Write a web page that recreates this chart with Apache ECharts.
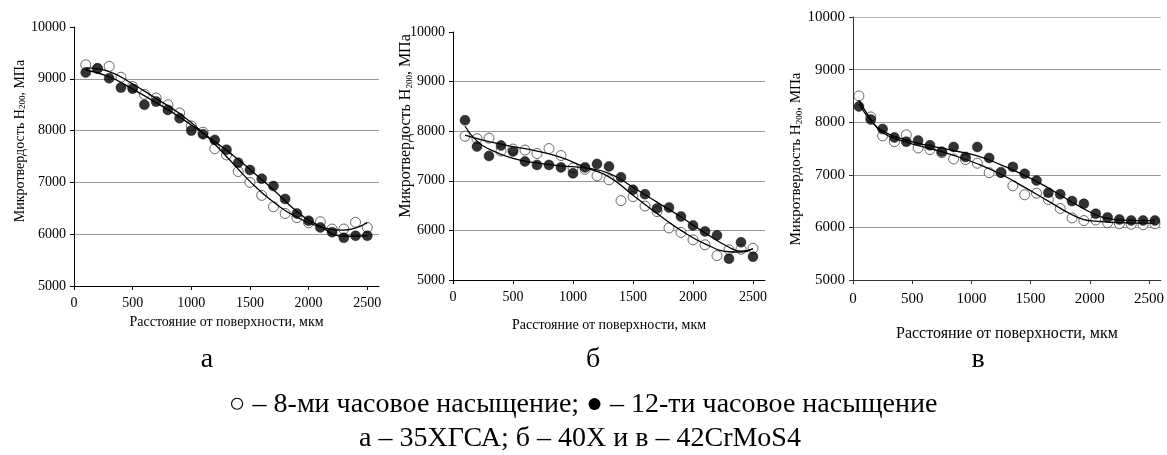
<!DOCTYPE html>
<html><head><meta charset="utf-8">
<script src="https://cdn.jsdelivr.net/npm/echarts@6/dist/echarts.min.js"></script>
<style>html,body{margin:0;padding:0;background:#fff}#c{width:1167px;height:455px}</style>
</head><body><div id="c"></div>
<script>
// ---------- data ----------
const xTickLabels = [0, 500, 1000, 1500, 2000, 2500];
const yTickValues = [5000, 6000, 7000, 8000, 9000, 10000];

// Panel а (35ХГСА)
const xA = [100,200,300,400,500,600,700,800,900,1000,1100,1200,1300,1400,1500,1600,1700,1800,1900,2000,2100,2200,2300,2400,2500];
const open8hA = [9270,9200,9240,9030,8850,8700,8630,8500,8340,8090,7970,7650,7530,7210,7000,6750,6530,6400,6320,6220,6240,6100,6100,6230,6130];
const filled12hA = [9120,9200,9010,8830,8810,8500,8560,8400,8240,8000,7930,7820,7630,7380,7240,7070,6930,6680,6400,6260,6130,6040,5930,5970,5970];
const trendXA = [100,300,500,700,900,1100,1300,1500,1700,1900,2100,2300,2500];
const trendOpenA = [9210,9140,8900,8620,8330,7960,7500,7020,6620,6330,6140,6080,6220];
const trendFilledA = [9170,9040,8800,8540,8260,7950,7620,7250,6860,6440,6150,5960,5970];

// Panel б (40Х)
const xB = [100,200,300,400,500,600,700,800,900,1000,1100,1200,1300,1400,1500,1600,1700,1800,1900,2000,2100,2200,2300,2400,2500];
const open8hB = [7900,7850,7860,7600,7640,7620,7550,7650,7510,7260,7230,7100,7020,6600,6680,6490,6380,6050,5960,5810,5710,5490,5610,5620,5640];
const filled12hB = [8220,7690,7500,7710,7590,7390,7320,7320,7270,7150,7270,7340,7290,7070,6820,6730,6440,6460,6280,6100,5980,5900,5430,5760,5470];
const trendXB = [100,200,300,500,700,900,1100,1300,1500,1700,1900,2100,2300,2400,2500];
const trendOpenB = [7920,7850,7790,7690,7600,7470,7270,7080,6710,6340,6000,5730,5570,5560,5630];
const trendFilledB = [8100,7800,7640,7450,7360,7300,7260,7150,6870,6570,6270,5950,5660,5580,5630];

// Panel в (42CrMoS4)
const xC = [50,150,250,350,450,550,650,750,850,950,1050,1150,1250,1350,1450,1550,1650,1750,1850,1950,2050,2150,2250,2350,2450,2550];
const open8hC = [8500,8100,7740,7630,7760,7510,7480,7420,7300,7290,7220,7040,7050,6790,6620,6650,6530,6360,6180,6130,6140,6090,6070,6060,6050,6070];
const filled12hC = [8300,8050,7870,7710,7630,7650,7560,7440,7530,7340,7530,7320,7040,7150,7020,6890,6660,6630,6500,6450,6260,6190,6150,6130,6130,6130];
const trendXOpenC = [50,150,250,450,650,850,1050,1250,1450,1650,1850,1950,2050,2250,2550];
const trendOpenC = [8420,8060,7800,7620,7500,7370,7210,7010,6760,6500,6240,6150,6120,6090,6080];
const trendXFilledC = [50,150,250,450,650,850,1050,1250,1450,1650,1850,2050,2150,2250,2550];
const trendFilledC = [8350,8030,7830,7660,7550,7460,7360,7190,6990,6750,6480,6240,6170,6140,6130];

const xAxisTitle = 'Расстояние от поверхности, мкм';
const yAxisTitleRich = '{n|Микротвердость H}{s|200}{n|, МПа}';
const panelLetters = ['а', 'б', 'в'];
const legendLine = '○ – 8-ми часовое насыщение; ● – 12-ти часовое насыщение';
const captionLine = 'а – 35ХГСА; б – 40Х и в – 42CrMoS4';

// ---------- chart ----------
const FF = "'Liberation Serif','Times New Roman',serif";
const zip = (xs, ys) => xs.map((x, i) => [x, ys[i]]);

const grids = [
  {left: 74, top: 27, width: 305, height: 259},
  {left: 453, top: 32, width: 312, height: 248},
  {left: 853, top: 17, width: 308, height: 263}
];
const xNameGap = [29, 38, 46];
const xNameSize = [14, 14, 16];
const tickSize = [14, 14, 15];
const xLabelMargin = [10, 10, 12];
const axisColor = ['#000', '#000', '#333'];
const gridColors = [
  ['#999','#999','#999','#999','#999','rgba(0,0,0,0)'],
  ['#999','#999','#999','#999','#999','rgba(0,0,0,0)'],
  ['#999','#999','#999','#999','#999','#bbb']
];

const xAxes = grids.map((g, i) => ({
  type: 'value', gridIndex: i, min: 0, max: 2600,
  axisLine: {show: true, lineStyle: {color: axisColor[i], width: 1}},
  axisTick: {show: true, length: 4, customValues: xTickLabels, lineStyle: {color: axisColor[i]}},
  axisLabel: {customValues: xTickLabels, formatter: v => String(v), fontFamily: FF, fontSize: tickSize[i], color: '#000', margin: xLabelMargin[i]},
  splitLine: {show: false},
  name: xAxisTitle, nameLocation: 'middle', nameGap: xNameGap[i],
  nameTextStyle: {fontFamily: FF, fontSize: xNameSize[i], color: '#000'}
}));
const yAxes = grids.map((g, i) => ({
  type: 'value', gridIndex: i, min: 5000, max: 10000, interval: 1000,
  axisLine: {show: true, lineStyle: {color: axisColor[i], width: 1}},
  axisTick: {show: true, length: 4, lineStyle: {color: axisColor[i]}},
  axisLabel: {formatter: v => String(v), fontFamily: FF, fontSize: tickSize[i], color: '#000', margin: 8},
  splitLine: {show: true, lineStyle: {color: gridColors[i], width: 1}}
}));

function scatter(i, data, filled) {
  return {
    type: 'scatter', xAxisIndex: i, yAxisIndex: i, data: data,
    symbol: 'circle', symbolSize: 10, z: filled ? 3 : 2,
    itemStyle: filled ? {color: '#000', borderColor: '#000', borderWidth: 0.5}
                      : {color: '#fff', borderColor: '#444', borderWidth: 1},
    silent: true
  };
}
function trend(i, data) {
  return {
    type: 'line', xAxisIndex: i, yAxisIndex: i, data: data, smooth: 0.5,
    showSymbol: false, z: 4, silent: true,
    lineStyle: {color: '#000', width: 1.3}
  };
}

const series = [
  scatter(0, zip(xA, open8hA), false), scatter(0, zip(xA, filled12hA), true),
  trend(0, zip(trendXA, trendOpenA)), trend(0, zip(trendXA, trendFilledA)),
  scatter(1, zip(xB, open8hB), false), scatter(1, zip(xB, filled12hB), true),
  trend(1, zip(trendXB, trendOpenB)), trend(1, zip(trendXB, trendFilledB)),
  scatter(2, zip(xC, open8hC), false), scatter(2, zip(xC, filled12hC), true),
  trend(2, zip(trendXOpenC, trendOpenC)), trend(2, zip(trendXFilledC, trendFilledC))
];

const yTitlePos = [[18, 141], [405, 126], [795, 159]];
const yTitleSize = [14, 16, 15];
const graphics = yTitlePos.map((p, i) => ({
  type: 'text', x: p[0], y: p[1], rotation: Math.PI / 2,
  style: {
    text: yAxisTitleRich, align: 'center', verticalAlign: 'middle',
    fontFamily: FF, fontSize: yTitleSize[i], fill: '#000',
    rich: {
      n: {fontFamily: FF, fontSize: yTitleSize[i], lineHeight: 18, verticalAlign: 'bottom', color: '#000'},
      s: {fontFamily: FF, fontSize: 9, lineHeight: 12, verticalAlign: 'bottom', color: '#000'}
    }
  }
}));
const letterX = [207, 593, 978];
panelLetters.forEach((t, i) => graphics.push({
  type: 'text', x: letterX[i], y: 360,
  style: {text: t, align: 'center', verticalAlign: 'middle', fontFamily: FF, fontSize: 28, fill: '#000'}
}));
graphics.push({type: 'text', x: 583, y: 405,
  style: {text: legendLine, align: 'center', verticalAlign: 'middle', fontFamily: FF, fontSize: 28, fill: '#000'}});
graphics.push({type: 'text', x: 580, y: 439,
  style: {text: captionLine, align: 'center', verticalAlign: 'middle', fontFamily: FF, fontSize: 28, fill: '#000'}});

const chart = echarts.init(document.getElementById('c'));
chart.setOption({
  animation: false,
  backgroundColor: '#fff',
  grid: grids,
  xAxis: xAxes,
  yAxis: yAxes,
  series: series,
  graphic: graphics
});
</script></body></html>
